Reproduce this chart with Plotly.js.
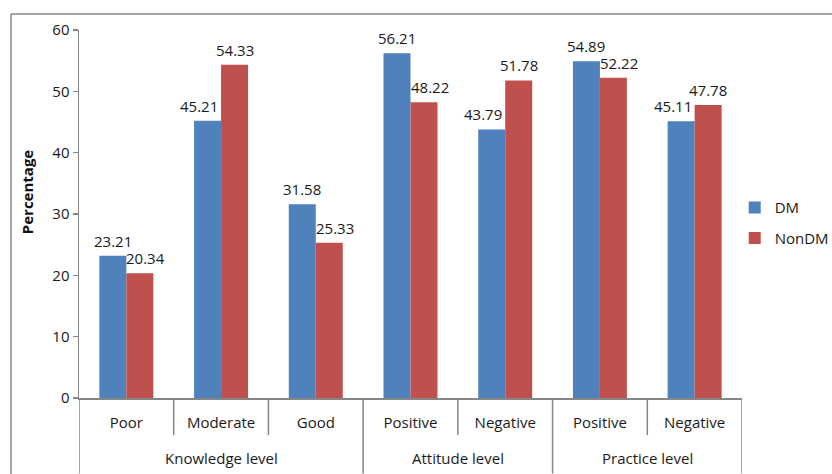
<!DOCTYPE html>
<html>
<head>
<meta charset="utf-8">
<script src="https://cdn.plot.ly/plotly-3.0.1.min.js"></script>
<style>html,body{margin:0;padding:0;background:#fff}#chart{width:832px;height:474px}</style>
</head>
<body>
<div id="chart"></div>
<script>
var groups = ["Knowledge level","Knowledge level","Knowledge level","Attitude level","Attitude level","Practice level","Practice level"];
var categories = ["Poor","Moderate","Good","Positive","Negative","Positive","Negative"];
var dmValues = [23.21, 45.21, 31.58, 56.21, 43.79, 54.89, 45.11];
var nonDmValues = [20.34, 54.33, 25.33, 48.22, 51.78, 52.22, 47.78];
var yTicks = [0, 10, 20, 30, 40, 50, 60];
var yTitle = "Percentage";

var font = "'Open Sans', 'Liberation Sans', sans-serif";
var axisColor = "#868686";
var textColor = "#1a1a1a";
var bargap = 0.43;
var half = (1 - bargap) / 2;   // width of one bar in category units

function fmt(v){ return v.toFixed(2); }
var idx = categories.map(function(_, i){ return i; });

var traces = [
  {type:"bar", name:"DM", legendgroup:"a", x:idx, y:dmValues,
   marker:{color:"#4F81BD"}, hoverinfo:"y"},
  {type:"bar", name:"NonDM", legendgroup:"b", x:idx, y:nonDmValues,
   marker:{color:"#C0504D"}, hoverinfo:"y"}
];

var annotations = [];
// value labels (nudged away from the taller neighbouring bar, as in the original)
idx.forEach(function(i){
  var d = dmValues[i], n = nonDmValues[i];
  var dmAnn = {xref:"x", yref:"y", y:d, yanchor:"bottom", yshift:3, showarrow:false,
               text:fmt(d), font:{size:15, family:font, color:textColor}};
  if (n > d) { dmAnn.x = i; dmAnn.xanchor = "right"; dmAnn.xshift = -1; }
  else { dmAnn.x = i - half/2; dmAnn.xanchor = "center"; }
  var nAnn = {xref:"x", yref:"y", y:n, yanchor:"bottom", yshift:3, showarrow:false,
              text:fmt(n), font:{size:15, family:font, color:textColor}};
  if (d > n) { nAnn.x = i; nAnn.xanchor = "left"; nAnn.xshift = -2; }
  else { nAnn.x = i + half/2; nAnn.xanchor = "center"; }
  annotations.push(dmAnn, nAnn);
});

// group (outer) labels
var groupNames = [];
groups.forEach(function(g){ if (groupNames.indexOf(g) < 0) groupNames.push(g); });
groupNames.forEach(function(g){
  var members = idx.filter(function(i){ return groups[i] === g; });
  var mid = (members[0] + members[members.length-1]) / 2;
  annotations.push({xref:"x", yref:"paper", x:mid, y:-0.163, yanchor:"middle", xanchor:"center",
                    showarrow:false, text:g, font:{size:15, family:font, color:textColor}});
});

// y-axis title
annotations.push({xref:"paper", yref:"paper", x:-0.078, y:0.56, textangle:-90, showarrow:false,
                  xanchor:"center", yanchor:"middle", text:"<b>" + yTitle + "</b>",
                  font:{size:15, family:font, color:"#111"}});

// category separators and group dividers
var shapes = [];
for (var b = 0; b <= categories.length; b++) {
  var isGroupEdge = (b === 0 || b === categories.length || groups[b] !== groups[b-1]);
  shapes.push({type:"line", xref:"x", yref:"paper", x0:b-0.5, x1:b-0.5, y0:0,
               y1: isGroupEdge ? -0.205 : -0.1005, line:{color:axisColor, width:1.5}});
}
// outer chart frame (top and left edges)
shapes.push({type:"line", xref:"paper", yref:"paper", x0:-0.1026, x1:1.3, y0:1.0435, y1:1.0435, line:{color:"#888", width:1.5}});
shapes.push({type:"line", xref:"paper", yref:"paper", x0:-0.1026, x1:-0.1026, y0:1.0435, y1:-0.3, line:{color:"#888", width:1.5}});

var layout = {
  width:832, height:474,
  margin:{l:79, r:90, t:30, b:76, autoexpand:false},
  paper_bgcolor:"#fff", plot_bgcolor:"#fff",
  font:{family:font, size:15, color:textColor},
  barmode:"group", bargap:bargap, bargroupgap:0,
  showlegend:true,
  legend:{x:0.989, y:0.476, xanchor:"left", yanchor:"middle", font:{size:15, family:font, color:textColor},
          itemwidth:20, tracegroupgap:8, bgcolor:"rgba(0,0,0,0)"},
  xaxis:{range:[-0.5, categories.length - 0.5], tickvals:idx, ticktext:categories,
         showline:true, linecolor:axisColor, linewidth:1.5, ticks:"", ticklabelstandoff:10,
         tickfont:{size:15, family:font, color:textColor}, showgrid:false, zeroline:false},
  yaxis:{range:[0,60], tickvals:yTicks, showline:true, linecolor:axisColor, linewidth:1.5,
         ticks:"outside", ticklen:5, tickcolor:axisColor, tickwidth:1.5, showgrid:false, zeroline:false,
         tickfont:{size:15, family:font, color:textColor}},
  annotations:annotations,
  shapes:shapes
};

Plotly.newPlot("chart", traces, layout, {displayModeBar:false, staticPlot:true});
</script>
</body>
</html>
